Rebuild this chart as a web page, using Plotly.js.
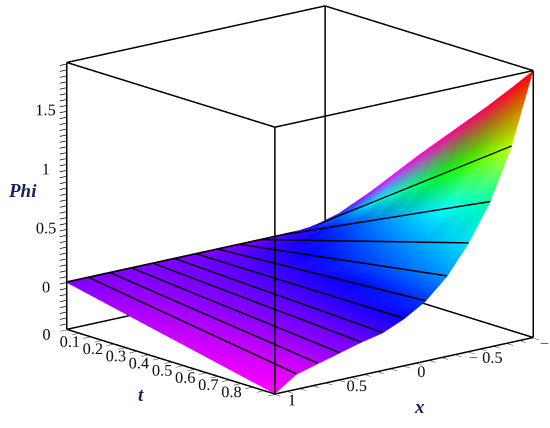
<!DOCTYPE html>
<html>
<head>
<meta charset="utf-8">
<script src="https://cdn.plot.ly/plotly-3.0.1.min.js"></script>
<style>
html,body{margin:0;padding:0;background:#fff;}
#plot{width:550px;height:428px;}
#dbg{position:absolute;left:0;top:0;font:11px sans-serif;color:red;}
</style>
</head>
<body>
<div id="plot"></div>
<div id="dbg"></div>
<script>
window.onerror = function(m){ document.getElementById('dbg').textContent += ' ERR: ' + m; };
// ---- data ----
const xVals = [1, 0.8333, 0.6667, 0.5, 0.3333, 0.1667, 0, -0.1667, -0.3333, -0.5, -0.6667, -0.8333, -1];
const tVals = [0, 0.1, 0.2, 0.3, 0.4, 0.5, 0.6, 0.7, 0.8, 0.9];
const phiT00 = [0, 0, 0, 0, 0, 0, 0, 0, 0, 0, 0, 0, 0];
const phiT01 = [-0.044, -0.030, -0.024, -0.019, -0.013, -0.009, 0, 0.012, 0.031, 0.058, 0.092, 0.14, 0.21];
const phiT02 = [-0.088, -0.060, -0.049, -0.038, -0.027, -0.018, 0, 0.024, 0.062, 0.116, 0.184, 0.28, 0.42];
const phiT03 = [-0.132, -0.090, -0.073, -0.057, -0.040, -0.027, 0, 0.037, 0.093, 0.173, 0.277, 0.42, 0.63];
const phiT04 = [-0.176, -0.120, -0.098, -0.076, -0.053, -0.036, 0, 0.049, 0.124, 0.231, 0.369, 0.56, 0.84];
const phiT05 = [-0.219, -0.150, -0.122, -0.094, -0.067, -0.044, 0, 0.061, 0.156, 0.289, 0.461, 0.70, 1.04];
const phiT06 = [-0.263, -0.180, -0.147, -0.113, -0.080, -0.053, 0, 0.073, 0.187, 0.347, 0.553, 0.84, 1.24];
const phiT07 = [-0.307, -0.210, -0.171, -0.132, -0.093, -0.062, 0, 0.086, 0.218, 0.404, 0.646, 0.98, 1.44];
const phiT08 = [-0.351, -0.240, -0.196, -0.151, -0.107, -0.071, 0, 0.098, 0.249, 0.462, 0.738, 1.12, 1.65];
const phiT09 = [-0.395, -0.270, -0.220, -0.170, -0.120, -0.080, 0, 0.110, 0.280, 0.520, 0.830, 1.26, 1.865];
const phiRows = [phiT00, phiT01, phiT02, phiT03, phiT04, phiT05, phiT06, phiT07, phiT08, phiT09];

// box (view) ranges
const xRange = [-1, 1];
const tRange = [0, 0.9];
const zRange = [-0.395, 1.865];

// tick labels (labelled ticks; unlabelled minor ticks are added between them)
const xTickVals = [1, 0.5, 0, -0.5, -1];
const xTickText = ['1', '0.5', '0', '\u2212 0.5', '\u2212 1'];
const tTickVals = [0, 0.1, 0.2, 0.3, 0.4, 0.5, 0.6, 0.7, 0.8];
const tTickText = ['0', '0.1', '0.2', '0.3', '0.4', '0.5', '0.6', '0.7', '0.8'];
const zTickVals = [0, 0.5, 1, 1.5];
const zTickText = ['0', '0.5', '1', '1.5'];

// colour style (hue in degrees at t=0 and along the t=0.9 edge, per column)
const startHue = 270;
const edgeHue = [300, 292, 284, 274, 266, 256, 242, 228, 205, 186, 160, 75, 360];

function hsv(h){
  h = ((h % 360) + 360) % 360;
  const x = 1 - Math.abs((h/60) % 2 - 1);
  let r=0,g=0,b=0;
  if (h<60){r=1;g=x;} else if(h<120){r=x;g=1;} else if(h<180){g=1;b=x;}
  else if(h<240){g=x;b=1;} else if(h<300){r=x;b=1;} else {r=1;b=x;}
  return 'rgb(' + Math.round(r*255) + ',' + Math.round(g*255) + ',' + Math.round(b*255) + ')';
}
const nx = xVals.length, nt = tVals.length, tMax = tVals[nt-1];
const mx=[], my=[], mz=[], vc=[], I=[], J=[], K=[];
for (let i=0;i<nt;i++){
  for (let j=0;j<nx;j++){
    mx.push(xVals[j]); my.push(tVals[i]); mz.push(phiRows[i][j]);
    const frac = tVals[i]/tMax;
    const f = (j === nx-1) ? frac : Math.pow(frac, 0.75);
    vc.push(hsv(startHue + (edgeHue[j]-startHue)*f));
  }
}
for (let i=0;i<nt-1;i++){
  for (let j=0;j<nx-1;j++){
    const a=i*nx+j, b=i*nx+j+1, c=(i+1)*nx+j, d=(i+1)*nx+j+1;
    I.push(a); J.push(b); K.push(d);
    I.push(a); J.push(d); K.push(c);
  }
}
const traces = [{
  type:'mesh3d', x:mx, y:my, z:mz, i:I, j:J, k:K, vertexcolor:vc,
  hoverinfo:'skip', showscale:false,
  lighting:{ambient:1, diffuse:0, specular:0, roughness:1, fresnel:0},
}];
const lift = 0.006;
for (let j=1;j<nx-1;j++){
  traces.push({type:'scatter3d', mode:'lines', hoverinfo:'skip', showlegend:false,
    x:tVals.map(()=>xVals[j]), y:tVals, z:phiRows.map(r=>r[j]+lift),
    line:{color:'#000', width:3}});
}
traces.push({type:'scatter3d', mode:'lines', hoverinfo:'skip', showlegend:false,
  x:xVals, y:xVals.map(()=>tVals[0]), z:phiT00.map(v=>v+lift), line:{color:'#000', width:3.5}});

// bounding box: the 12 edges of the view cube
function edge(p, q){
  traces.push({type:'scatter3d', mode:'lines', hoverinfo:'skip', showlegend:false,
    x:[p[0], q[0]], y:[p[1], q[1]], z:[p[2], q[2]], line:{color:'#000', width:3}});
}
for (const a of xRange) for (const b of tRange) edge([a,b,zRange[0]],[a,b,zRange[1]]);
for (const a of xRange) for (const c of zRange) edge([a,tRange[0],c],[a,tRange[1],c]);
for (const b of tRange) for (const c of zRange) edge([xRange[0],b,c],[xRange[1],b,c]);

// minor ticks: unlabelled tick marks between the labelled ones
function withMinor(vals, text, lo, hi, step){
  const v = [], t = [];
  const n = Math.round((hi-lo)/step);
  for (let k=0;k<=n;k++){
    const val = +(lo + k*step).toFixed(4);
    const idx = vals.findIndex(q => Math.abs(q-val) < 1e-6);
    v.push(val); t.push(idx >= 0 ? text[idx] : '');
  }
  return [v, t];
}
function padded(rg){ const p = (rg[1]-rg[0])*0.002; return [rg[0]-p, rg[1]+p]; }
const tickFont = {family:'Liberation Serif', size:14, color:'#111'};
function axis(range, tv, tt){
  return {title:{text:''}, range:padded(range), autorange:false,
    tickvals:tv, ticktext:tt, tickfont:tickFont, tickangle:0, ticks:'outside', ticklen:8, tickwidth:1.5, tickcolor:'#000',
    showgrid:false, zeroline:false, showbackground:false, showspikes:false,
    showline:false, mirror:false};
}
const xt = withMinor(xTickVals, xTickText, -1, 1, 0.1);
const tt = withMinor(tTickVals, tTickText, 0, 0.9, 0.05);
const zt = withMinor(zTickVals, zTickText, -0.35, 1.85, 0.05);
const titleFont = {family:'Liberation Serif', size:19, color:'#15235e'};
function lab(text, px, py){
  return {text:'<b><i>' + text + '</i></b>', xref:'paper', yref:'paper', x:px/550, y:1-py/428,
    xanchor:'center', yanchor:'middle', showarrow:false, font:titleFont};
}
// camera: look at a shifted centre along a fixed view direction
const viewDir = {x:0.621, y:0.740, z:0.261};
const camCenter = {x:0.1005, y:-0.062, z:-0.0632};
const dist = 3;
const layout = {
  width:550, height:428, margin:{l:0,r:0,t:0,b:0},
  paper_bgcolor:'#fff', showlegend:false,
  annotations:[lab('Phi', 22, 190), lab('t', 141, 394), lab('x', 419, 406)],
  scene:{
    domain:{x:[0,1], y:[0,1]},
    xaxis:axis(xRange, xt[0], xt[1]),
    yaxis:axis(tRange, tt[0], tt[1]),
    zaxis:axis(zRange, zt[0], zt[1]),
    aspectmode:'manual', aspectratio:{x:1.582, y:1.519, z:1.297},
    camera:{
      eye:{x:camCenter.x+dist*viewDir.x, y:camCenter.y+dist*viewDir.y, z:camCenter.z+dist*viewDir.z},
      up:{x:0,y:0,z:1}, center:camCenter, projection:{type:'orthographic'}}
  }
};
Plotly.newPlot('plot', traces, layout, {displayModeBar:false}).catch(e=>{document.getElementById('dbg').textContent += ' PERR ' + e;});
</script>
</body>
</html>
